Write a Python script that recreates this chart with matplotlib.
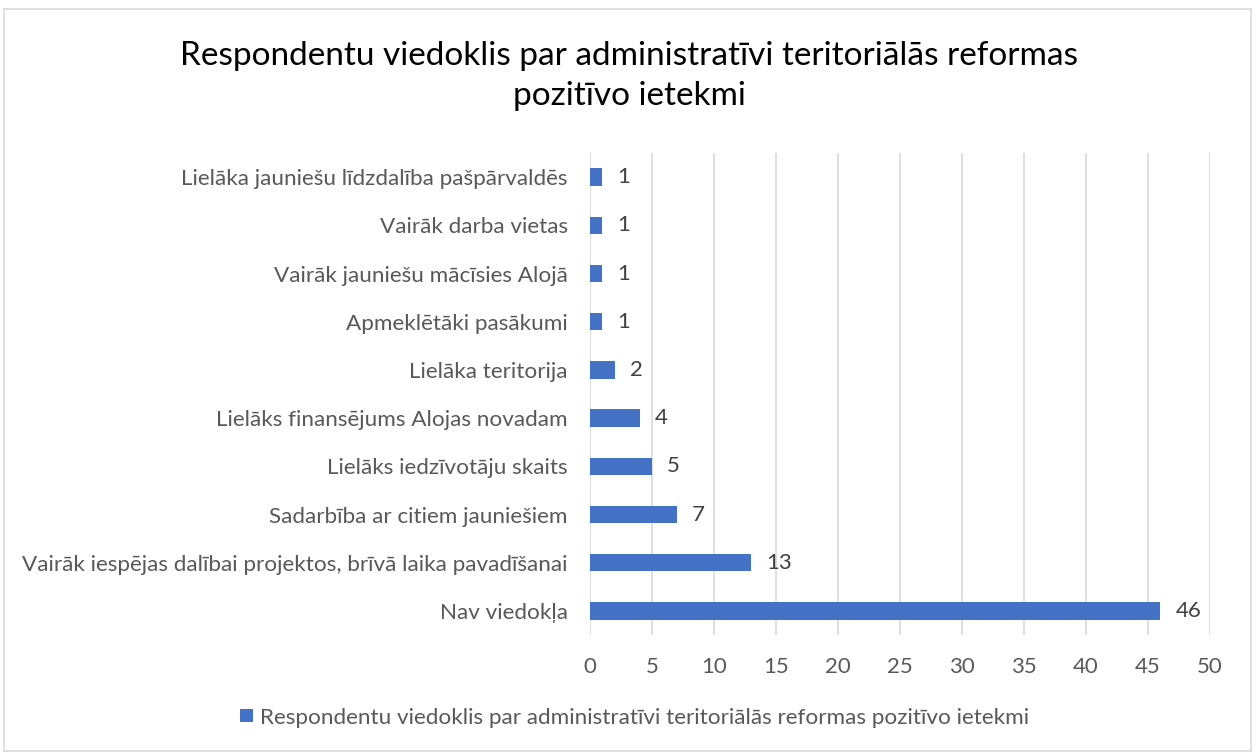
import matplotlib.pyplot as plt
from matplotlib.patches import Rectangle

categories = [
    "Nav viedokļa",
    "Vairāk iespējas dalībai projektos, brīvā laika pavadīšanai",
    "Sadarbība ar citiem jauniešiem",
    "Lielāks iedzīvotāju skaits",
    "Lielāks finansējums Alojas novadam",
    "Lielāka teritorija",
    "Apmeklētāki pasākumi",
    "Vairāk jauniešu mācīsies Alojā",
    "Vairāk darba vietas",
    "Lielāka jauniešu līdzdalība pašpārvaldēs",
]
values = [46, 13, 7, 5, 4, 2, 1, 1, 1, 1]
xticks = [0, 5, 10, 15, 20, 25, 30, 35, 40, 45, 50]
title = "Respondentu viedoklis par administratīvi teritoriālās reformas\npozitīvo ietekmi"
series_name = "Respondentu viedoklis par administratīvi teritoriālās reformas pozitīvo ietekmi"

plt.rcParams['font.family'] = ['Lato', 'DejaVu Sans']
bar_color = "#4472C4"
text_color = "#595959"

fig = plt.figure(figsize=(12.59, 7.53), dpi=100)
fig.patches.append(Rectangle((0.003, 0.003), 0.991, 0.985, transform=fig.transFigure,
                             fill=False, edgecolor="#D9D9D9", linewidth=1.2))
ax = fig.add_axes([0.4686, 0.1567, 0.4925, 0.6401])

ypos = list(range(len(categories)))
bars = ax.barh(ypos, values, height=0.36, color=bar_color, label=series_name, zorder=3)
for y, v in zip(ypos, values):
    ax.text(v + 1.2, y, str(v), va="center", ha="left", fontsize=16, color="#404040")

ax.set_xlim(0, 50)
ax.set_ylim(-0.5, len(categories) - 0.5)
ax.set_xticks(xticks)
ax.set_yticks(ypos)
ax.set_yticklabels(categories)
ax.tick_params(axis="x", length=0, pad=16, labelsize=16, labelcolor=text_color)
ax.tick_params(axis="y", length=0, pad=16, labelsize=16.2, labelcolor=text_color)
ax.grid(axis="x", color="#D9D9D9", linewidth=1.2, zorder=0)
for s in ax.spines.values():
    s.set_visible(False)

fig.text(0.5, 0.899, title, ha="center", va="center", fontsize=24, color="black",
         linespacing=1.4)

fig.legend(handles=[bars], labels=[series_name], loc="center", bbox_to_anchor=(0.504, 0.047),
           frameon=False, fontsize=16.2, labelcolor=text_color, handlelength=0.55,
           handleheight=0.55, handletextpad=0.3)

fig.savefig("out.png", dpi=100)
